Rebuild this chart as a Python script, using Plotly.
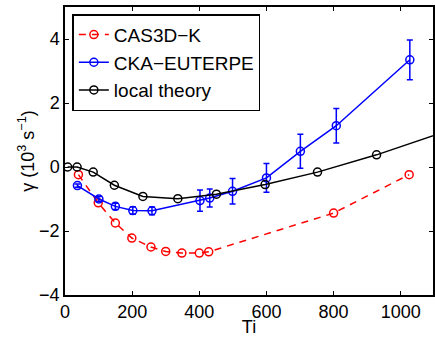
import plotly.graph_objects as go

# CAS3D-K growth rates
cas_ti = [40, 99, 150, 199, 256, 300, 348, 400, 428, 800, 1025]
cas_gamma = [-0.24, -1.12, -1.75, -2.22, -2.50, -2.64, -2.69, -2.69, -2.65, -1.44, -0.24]

# CKA-EUTERPE growth rates with error estimates
cka_ti = [37, 101, 150, 202, 259, 402, 431, 499, 600, 701, 808, 1027]
cka_gamma = [-0.58, -1.00, -1.23, -1.36, -1.37, -1.05, -0.97, -0.76, -0.34, 0.49, 1.29, 3.35]
cka_err = [0.05, 0.08, 0.10, 0.12, 0.12, 0.33, 0.28, 0.40, 0.45, 0.53, 0.54, 0.62]

# local theory
loc_ti = [8, 36, 84, 147, 232, 336, 451, 596, 752, 928, 1130]
loc_gamma = [0.0, 0.0, -0.16, -0.57, -0.92, -0.99, -0.85, -0.55, -0.16, 0.38, 1.10]

FONT = "Liberation Sans, Arial, Helvetica, sans-serif"
FS = 18

fig = go.Figure()
fig.add_trace(go.Scatter(
    x=cas_ti, y=cas_gamma, name="CAS3D\u2212K", mode="lines+markers",
    line=dict(color="#ff0000", width=1.5, dash="7px,6px"),
    marker=dict(symbol="circle-open", size=8, color="#ff0000", line=dict(width=1.5)),
))
fig.add_trace(go.Scatter(
    x=cka_ti, y=cka_gamma, name="CKA\u2212EUTERPE", mode="lines+markers",
    line=dict(color="#0000ff", width=1.5),
    marker=dict(symbol="circle-open", size=8, color="#0000ff", line=dict(width=1.5)),
    error_y=dict(type="data", array=cka_err, visible=True, color="#0000ff",
                 thickness=1.5, width=3),
))
fig.add_trace(go.Scatter(
    x=loc_ti, y=loc_gamma, name="local theory", mode="lines+markers",
    line=dict(color="#000000", width=1.5),
    marker=dict(symbol="circle-open", size=8, color="#000000", line=dict(width=1.5)),
))

axis_common = dict(
    showline=True, linecolor="black", linewidth=1.5, mirror="ticks",
    ticks="inside", ticklen=4, tickwidth=1, tickcolor="black",
    showgrid=False, zeroline=False,
    tickfont=dict(family=FONT, size=FS, color="black"),
)

fig.update_layout(
    width=435, height=337,
    margin=dict(l=65, r=0, t=7, b=41),
    paper_bgcolor="white", plot_bgcolor="white",
    font=dict(family=FONT, size=FS, color="black"),
    xaxis=dict(range=[0, 1096], tickvals=[0, 200, 400, 600, 800, 1000],
               title=dict(text="Ti", standoff=2, font=dict(family=FONT, size=FS)),
               **axis_common),
    yaxis=dict(range=[-4, 5], tickvals=[-4, -2, 0, 2, 4],
               ticktext=["\u22124", "\u22122", "0", "2", "4"],
               title=dict(text="\u03b3 (10<sup>3</sup> s<sup>\u22121</sup>)", standoff=0,
                          font=dict(family=FONT, size=FS)),
               **axis_common),
    legend=dict(x=0.02, y=0.975, xanchor="left", yanchor="top",
                bordercolor="black", borderwidth=1.5, bgcolor="white",
                font=dict(family=FONT, size=19), tracegroupgap=0,
                itemwidth=30),
    showlegend=True,
)

fig.write_html("out.html")
